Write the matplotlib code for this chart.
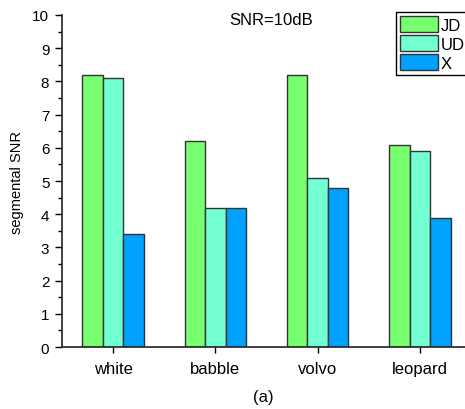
import numpy as np
import matplotlib.pyplot as plt
from matplotlib.ticker import MultipleLocator

plt.rcParams['font.family'] = ['Liberation Sans', 'DejaVu Sans']

categories = ['white', 'babble', 'volvo', 'leopard']
jd = [8.2, 6.2, 8.2, 6.1]
ud = [8.1, 4.2, 5.1, 5.9]
x_vals = [3.4, 4.2, 4.8, 3.9]

series = [('JD', jd, '#77ff6f'), ('UD', ud, '#72ffd2'), ('X', x_vals, '#00a2ff')]

fig = plt.figure(figsize=(4.65, 4.1), dpi=100)
ax = fig.add_axes([0.133, 0.151, 0.867, 0.81])

pos = np.arange(len(categories))
w = 0.2
for i, (name, vals, col) in enumerate(series):
    ax.bar(pos + (i - 1) * w, vals, w, color=col, edgecolor='#333333',
           linewidth=1, label=name)

ax.set_xlim(-0.5, 3.44)
ax.set_ylim(0, 10)
ax.set_xticks(pos)
ax.set_xticklabels(categories, fontsize=12)
ax.yaxis.set_major_locator(MultipleLocator(1))
ax.yaxis.set_minor_locator(MultipleLocator(0.5))
ax.tick_params(axis='y', which='major', length=5, labelsize=11, width=1, pad=4)
ax.tick_params(axis='y', which='minor', length=3, width=1)
ax.tick_params(axis='x', length=4.3, width=1, pad=6)
ax.spines['top'].set_visible(False)
ax.spines['right'].set_visible(False)
for s in ('left', 'bottom'):
    ax.spines[s].set_linewidth(1.2)
    ax.spines[s].set_color('#222222')

ax.set_ylabel('segmental SNR', fontsize=10.5, labelpad=6)
ax.set_xlabel('(a)', fontsize=12, labelpad=9)
ax.text(0.52, 0.973, 'SNR=10dB', transform=ax.transAxes, ha='center',
        va='baseline', fontsize=12)

ax.legend(loc='upper left', bbox_to_anchor=(0.829, 1.008), fontsize=12,
          frameon=True, fancybox=False, edgecolor='black', framealpha=1,
          handlelength=2.3, handleheight=1.1, handletextpad=0.18,
          borderpad=0.22, labelspacing=0.15, borderaxespad=0)

fig.savefig('out.png', dpi=100)
